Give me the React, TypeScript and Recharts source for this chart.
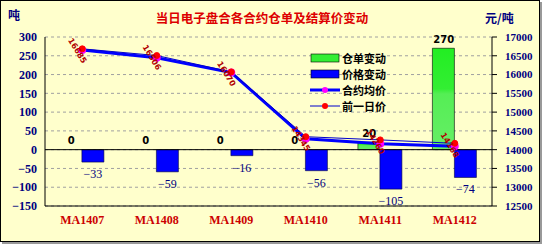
import React from "react";
import {
  ComposedChart, Bar, Line, XAxis, YAxis, CartesianGrid, LabelList, ReferenceLine,
} from "recharts";

const categories = ["MA1407", "MA1408", "MA1409", "MA1410", "MA1411", "MA1412"];
const warrantChange = [0, 0, 0, 0, 20, 270];
const priceChange = [-33, -59, -16, -56, -105, -74];
const avgPrice = [16652, 16447, 16054, 14289, 14155, 14094];
const prevPrice = [16685, 16506, 16070, 14345, 14260, 14168];
const leftTicks = [-150, -100, -50, 0, 50, 100, 150, 200, 250, 300];
const rightTicks = [12500, 13000, 13500, 14000, 14500, 15000, 15500, 16000, 16500, 17000];

const data = categories.map((c, i) => ({
  name: c,
  warrant: warrantChange[i],
  price: priceChange[i],
  avg: avgPrice[i],
  prev: prevPrice[i],
}));

const fmt = (v: any) => String(v).replace("-", "\u2212");

const CatTick = (props: any) => {
  const { x, payload } = props;
  return (
    <text x={x} y={219} textAnchor="middle" dominantBaseline="central"
      fontFamily="'Liberation Serif', serif" fontWeight="bold" fontSize={12} fill="#CC0000">
      {payload.value}
    </text>
  );
};

const PriceLabel = (props: any) => {
  const { x, y, value } = props;
  const cx = x - 5;
  const cy = y + 2;
  return (
    <text x={cx} y={cy} textAnchor="middle" dominantBaseline="central"
      transform={`rotate(58 ${cx} ${cy})`}
      fontFamily="'DejaVu Sans', sans-serif" fontWeight="bold" fontSize={8} fill="#B00000">
      {value}
    </text>
  );
};

// label drawn from an invisible line on the warrant values (so zero bars also get labels)
const WarrantLabel = (props: any) => {
  const { x, y, value } = props;
  return (
    <text x={x - 11} y={y - 9} textAnchor="middle" dominantBaseline="central"
      fontFamily="'DejaVu Sans', sans-serif" fontWeight="bold" fontSize={10} fill="#000">
      {value}
    </text>
  );
};

const PriceChgLabel = (props: any) => {
  const { x, y, width, height, value } = props;
  const bottom = Math.max(y, y + height);
  return (
    <text x={x + width / 2} y={bottom + 12} textAnchor="middle" dominantBaseline="central"
      fontFamily="'Liberation Serif', serif" fontSize={12} fill="#000080">
      {fmt(value)}
    </text>
  );
};

const legendItems = [
  { label: "仓单变动", type: "bar", color: "#33EE33" },
  { label: "价格变动", type: "bar", color: "#0000FF" },
  { label: "合约均价", type: "line", color: "#0000FF", dot: "#FF00FF", w: 3 },
  { label: "前一日价", type: "line", color: "#0000CC", dot: "#FF0000", w: 1 },
];

export default function App() {
  return (
    <div style={{ position: "absolute", left: 0, top: 0, width: 538, height: 240,
      border: "1px solid #000", background: "#FFFFCC", boxShadow: "2px 2px 0 #999" }}>
      <div style={{ position: "absolute", left: 0, top: 10, width: 522, textAlign: "center",
        fontFamily: "'Noto Sans CJK SC', sans-serif", fontWeight: "bold", fontSize: 12.5,
        color: "#DD0000", lineHeight: "14px" }}>
        当日电子盘合各合约仓单及结算价变动
      </div>
      <div style={{ position: "absolute", left: 7, top: 7, fontFamily: "'Noto Sans CJK SC', sans-serif",
        fontWeight: "bold", fontSize: 12, color: "#000080", lineHeight: "14px" }}>吨</div>
      <div style={{ position: "absolute", left: 484, top: 10, fontFamily: "'Noto Sans CJK SC', sans-serif",
        fontWeight: "bold", fontSize: 12, color: "#000080", lineHeight: "14px" }}>元/吨</div>
      <div style={{ position: "absolute", left: 309, top: 49, zIndex: 2 }}>
        {legendItems.map((it, i) => (
          <div key={i} style={{ display: "flex", alignItems: "center", height: 16 }}>
            <svg width={30} height={12}>
              {it.type === "bar" ? (
                <rect x={1} y={2} width={28} height={8} fill={it.color} stroke="#000" strokeWidth={0.6} />
              ) : (
                <>
                  <line x1={0} y1={6} x2={30} y2={6} stroke={it.color} strokeWidth={it.w} />
                  <circle cx={15} cy={6} r={3} fill={it.dot} />
                </>
              )}
            </svg>
            <span style={{ marginLeft: 2, fontFamily: "'Noto Sans CJK SC', sans-serif", fontWeight: "bold",
              fontSize: 11, color: "#000", lineHeight: "16px", height: 16 }}>{it.label}</span>
          </div>
        ))}
      </div>
      <ComposedChart width={538} height={240} data={data}
        margin={{ top: 36, right: 0, bottom: 0, left: 0 }} barCategoryGap="20%" barGap={0}>
        <defs>
          <linearGradient id="gGreen" x1="0" y1="0" x2="0" y2="1">
            <stop offset="0%" stopColor="#22EE22" />
            <stop offset="40%" stopColor="#33EE33" />
            <stop offset="45%" stopColor="#55EE55" />
            <stop offset="100%" stopColor="#66EE66" />
          </linearGradient>
        </defs>
        <CartesianGrid yAxisId="left" vertical={false} stroke="#A0A0A0" strokeDasharray="3 3" />
        <XAxis dataKey="name" height={35} axisLine={{ stroke: "#000" }} tickLine={false} tick={<CatTick />} />
        <XAxis xAxisId="top" dataKey="name" orientation="top" height={0} tick={false} tickLine={false}
          axisLine={{ stroke: "#000" }} />
        <YAxis yAxisId="left" width={44} domain={[-150, 300]} ticks={leftTicks} interval={0}
          axisLine={{ stroke: "#000" }} tickLine={false} tickFormatter={fmt}
          tick={{ fill: "#000080", fontSize: 12, fontWeight: "bold", fontFamily: "'Liberation Serif', serif" }} />
        <YAxis yAxisId="right" orientation="right" width={47} domain={[12500, 17000]} ticks={rightTicks}
          interval={0} axisLine={{ stroke: "#000" }} tickLine={{ stroke: "#000" }} tickSize={5} tickMargin={8}
          tick={{ fill: "#000080", fontSize: 11, fontWeight: "bold", fontFamily: "'Liberation Serif', serif", textAnchor: "start" }} />
        <ReferenceLine yAxisId="left" y={0} stroke="#000" />
        <Bar yAxisId="left" dataKey="warrant" fill="url(#gGreen)" stroke="#000" strokeWidth={0.6}
          isAnimationActive={false} />
        <Bar yAxisId="left" dataKey="price" fill="#0000FF" stroke="#000040" strokeWidth={0.6}
          isAnimationActive={false}>
          <LabelList dataKey="price" content={<PriceChgLabel />} />
        </Bar>
        <Line yAxisId="left" dataKey="warrant" stroke="none" dot={false} activeDot={false}
          legendType="none" isAnimationActive={false}>
          <LabelList dataKey="warrant" content={<WarrantLabel />} />
        </Line>
        <Line yAxisId="right" dataKey="avg" stroke="#0000FF" strokeWidth={3}
          dot={{ r: 2.5, fill: "#FF00FF", stroke: "#FF00FF" }} isAnimationActive={false} />
        <Line yAxisId="right" dataKey="prev" stroke="#0000CC" strokeWidth={1}
          dot={{ r: 3, fill: "#FF0000", stroke: "#FF0000" }} isAnimationActive={false}>
          <LabelList dataKey="prev" content={<PriceLabel />} />
        </Line>
      </ComposedChart>
    </div>
  );
}
